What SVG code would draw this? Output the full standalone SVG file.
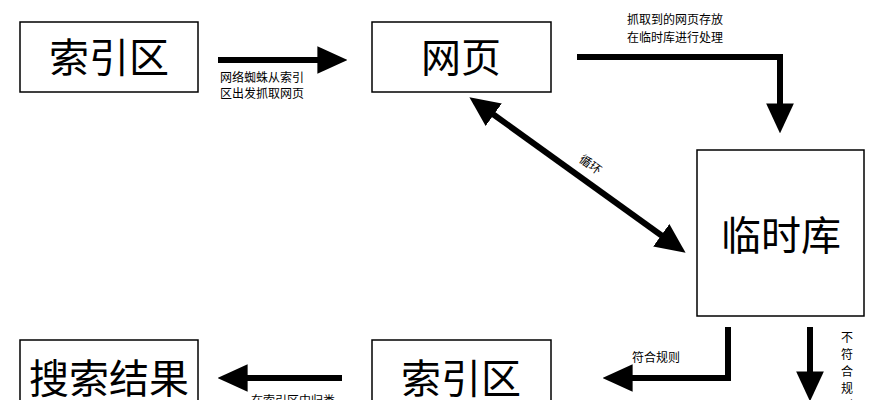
<svg xmlns="http://www.w3.org/2000/svg" width="886" height="400" viewBox="0 0 886 400">
<style>
.box{fill:#fff;stroke:#000;stroke-width:1.5}
.big{font-family:"Noto Sans CJK SC",sans-serif;font-size:40px;text-anchor:middle;fill:#000}
.sm{font-family:"Noto Sans CJK SC",sans-serif;font-size:12px;fill:#000}
.ln{fill:none;stroke:#000;stroke-width:6}
</style>
<defs>
<marker id="ah" markerUnits="userSpaceOnUse" markerWidth="30" markerHeight="30" refX="4" refY="12" orient="auto-start-reverse" viewBox="0 0 26 24">
<path d="M0,0 L26,12 L0,24 Z" fill="#000"/>
</marker>
</defs>
<g id="n1"><rect class="box" x="20" y="22" width="178" height="70"/><text class="big" x="109" y="72">索引区</text></g>
<g id="n2"><rect class="box" x="372" y="22" width="179" height="70"/><text class="big" x="461" y="72">网页</text></g>
<g id="n3"><rect class="box" x="697" y="150" width="167" height="166"/><text class="big" x="781" y="250">临时库</text></g>
<g id="n4"><rect class="box" x="20" y="340" width="178" height="80"/><text class="big" x="109" y="393">搜索结果</text></g>
<g id="n5"><rect class="box" x="372" y="340" width="179" height="80"/><text class="big" x="461" y="393">索引区</text></g>
<g id="edges">
<path class="ln" d="M218,60 H322" marker-end="url(#ah)"/>
<text class="sm" x="220" y="82">网络蜘蛛从索引</text>
<text class="sm" x="220" y="98">区出发抓取网页</text>
<path class="ln" d="M577,57 H780 V108" marker-end="url(#ah)"/>
<text class="sm" x="675" y="24" text-anchor="middle">抓取到的网页存放</text>
<text class="sm" x="675" y="42" text-anchor="middle">在临时库进行处理</text>
<path class="ln" d="M490,112 L665,238" marker-start="url(#ah)" marker-end="url(#ah)"/>
<text class="sm" x="588" y="168" text-anchor="middle" transform="rotate(36 588 168)">循环</text>
<path class="ln" d="M728,327 V378 H628" marker-end="url(#ah)"/>
<text class="sm" x="632" y="362">符合规则</text>
<path class="ln" d="M810,327 V376" marker-end="url(#ah)"/>
<g class="sm" text-anchor="middle"><text x="847" y="342">不</text><text x="847" y="359">符</text><text x="847" y="376">合</text><text x="847" y="393">规</text><text x="847" y="410">则</text></g>
<path class="ln" d="M342,378 H243" marker-end="url(#ah)"/>
<text class="sm" x="293" y="405" text-anchor="middle">在索引区中归类</text>
</g>
</svg>
